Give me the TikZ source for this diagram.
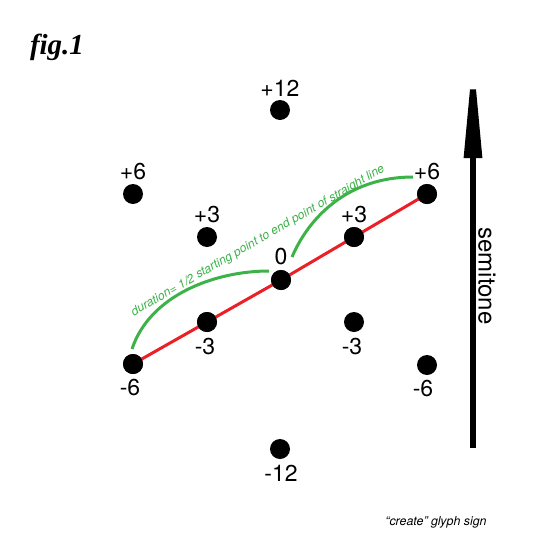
\documentclass[tikz,border=0pt]{standalone}
\usepackage{fontspec}
\setmainfont{TeX Gyre Heros}
\newfontfamily\figfont{Liberation Serif}
\usepackage{xcolor}
\usetikzlibrary{arrows.meta}
\definecolor{durgreen}{RGB}{60,178,72}
\definecolor{linered}{RGB}{235,32,38}
\tikzset{
  dot/.style={circle,fill=black,inner sep=0pt,minimum size=20pt},
  num/.style={inner sep=0pt,font=\fontsize{23}{27}\selectfont},
  redln/.style={linered,line width=3pt},
  durarc/.style={durgreen,line width=3pt},
  semi/.style={line width=6pt,-{Triangle[length=106pt,width=17pt]}}
}
\newcommand{\tone}[5]{\node[dot] (#1) at (#2,#3) {}; \node[num] (l#1) at (#4) {#5};}

\begin{document}
\begin{tikzpicture}[x=1pt,y=-1pt]
\useasboundingbox (0,0) rectangle (560,560);
% glyph points
\tone{ptw}{280}{110}{280,88}{+12}
\tone{psl}{133}{194}{133,172}{+6}
\tone{pthl}{207}{237}{207,215}{+3}
\tone{zero}{281}{280}{281,257}{0}
\tone{pthr}{354}{237}{354,215}{+3}
\tone{psr}{427}{194}{427,172}{+6}
\tone{mthl}{207}{322}{205,347}{-3}
\tone{mthr}{354}{322}{352,347}{-3}
\tone{msl}{133}{364}{130,388}{-6}
\tone{msr}{427}{365}{423,389}{-6}
\tone{mtw}{280}{449}{281,473}{-12}
% straight line
\draw[redln] (msl.center) -- (mthl.center) -- (zero.center) -- (pthr.center) -- (psr.center);
\node[dot] at (msl) {}; \node[dot] at (mthl) {}; \node[dot] at (zero) {}; \node[dot] at (pthr) {}; \node[dot] at (psr) {};
% duration arcs
\coordinate (da) at (132,349); \coordinate (db) at (269,271);
\coordinate (dc) at (292,257); \coordinate (dd) at (413,177);
\draw[durarc] (da) .. controls (150,295) and (215,271) .. (db);
\draw[durarc] (dc) .. controls (310,215) and (350,177) .. (dd);
\node[durgreen,rotate=30,inner sep=0pt,font=\itshape\fontsize{12.2}{14}\selectfont] (dur) at (258,241) {duration= 1/2 starting point to end point of straight line};
% semitone axis
\coordinate (abot) at (473,448); \coordinate (atop) at (473,52);
\draw[semi] (abot) -- (atop);
\node[rotate=-90,inner sep=0pt,font=\fontsize{24}{28}\selectfont] (semt) at (487,276) {semitone};
\node[inner sep=0pt,font=\figfont\bfseries\itshape\fontsize{29}{32}\selectfont] (fig) at (57,47) {fig.1};
\node[inner sep=0pt,font=\itshape\fontsize{12.4}{14}\selectfont] (crt) at (436,522) {``create'' glyph sign};
\end{tikzpicture}
\end{document}
